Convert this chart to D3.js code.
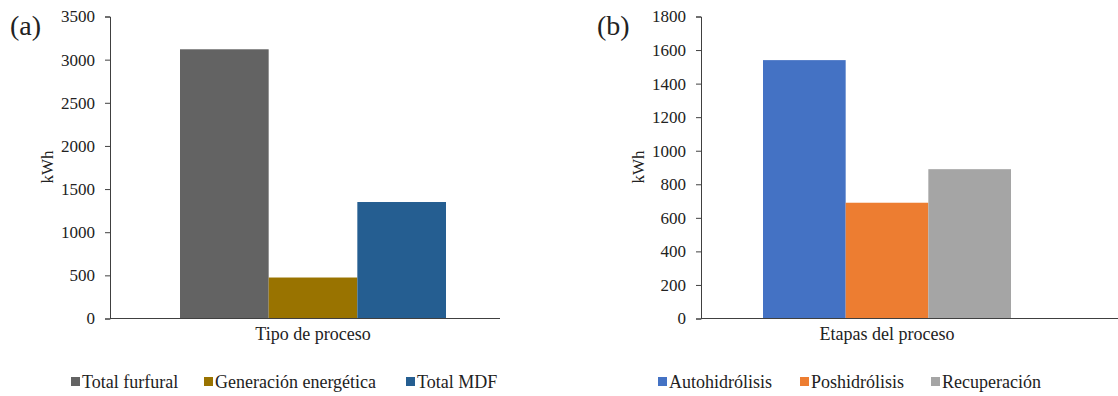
<!DOCTYPE html>
<html>
<head>
<meta charset="utf-8">
<script src="https://cdn.jsdelivr.net/npm/d3@7"></script>
<style>
  body { margin: 0; background: #fff; }
</style>
</head>
<body>
<svg id="chart" width="1118" height="396" font-family="Liberation Serif"></svg>
<script>
// Panel (a) data
const seriesA = ["Total furfural", "Generación energética", "Total MDF"];
const valuesA = [3120, 475, 1350];
const colorsA = ["#636363", "#997300", "#255e91"];
const ticksA = [0, 500, 1000, 1500, 2000, 2500, 3000, 3500];

// Panel (b) data
const seriesB = ["Autohidrólisis", "Poshidrólisis", "Recuperación"];
const valuesB = [1540, 690, 890];
const colorsB = ["#4472c4", "#ed7d31", "#a5a5a5"];
const ticksB = [0, 200, 400, 600, 800, 1000, 1200, 1400, 1600, 1800];

const FONT = "Liberation Serif";
const svg = d3.select("#chart");

// Draw one panel of the figure
function drawPanel(opt) {
    const g = svg.append("g");

    const y = d3.scaleLinear()
        .domain([0, opt.max])
        .range([318.5, 16.5]);

    const x = d3.scaleBand()
        .domain(opt.series)
        .range([opt.barLeft, opt.barRight])
        .padding(0);

    // Bars
    g.selectAll("rect.bar")
        .data(opt.values)
        .enter().append("rect")
        .attr("class", "bar")
        .attr("x", (d, i) => x(opt.series[i]))
        .attr("y", d => y(d))
        .attr("width", x.bandwidth())
        .attr("height", d => y(0) - y(d))
        .attr("fill", (d, i) => opt.colors[i]);

    // Y axis
    const yAxis = d3.axisLeft(y)
        .tickValues(opt.ticks)
        .tickSize(5)
        .tickPadding(10)
        .tickFormat(d3.format("d"));
    const ag = g.append("g")
        .attr("transform", `translate(${opt.axisLeft},0)`)
        .call(yAxis)
        .attr("font-family", FONT)
        .attr("font-size", 17);
    ag.select(".domain").attr("stroke", "#404040");
    ag.selectAll(".tick line").attr("stroke", "#404040");
    ag.selectAll(".tick text").attr("fill", "#222");

    // X axis baseline
    g.append("line")
        .attr("x1", opt.axisLeft)
        .attr("x2", opt.axisRight)
        .attr("y1", y(0))
        .attr("y2", y(0))
        .attr("stroke", "#404040");

    // Category label
    g.append("text")
        .attr("x", (opt.barLeft + opt.barRight) / 2)
        .attr("y", 340)
        .attr("text-anchor", "middle")
        .attr("font-family", FONT)
        .attr("font-size", 18)
        .attr("fill", "#222")
        .text(opt.category);

    // Y axis title
    g.append("text")
        .attr("transform", `translate(${opt.axisLeft - 57},167) rotate(-90)`)
        .attr("text-anchor", "middle")
        .attr("font-family", FONT)
        .attr("font-size", 17)
        .attr("fill", "#222")
        .text("kWh");

    // Panel letter
    g.append("text")
        .attr("x", opt.letterX)
        .attr("y", 35)
        .attr("font-family", FONT)
        .attr("font-size", 28)
        .attr("fill", "#222")
        .text(opt.letter);

    // Legend
    const lg = g.selectAll("g.leg")
        .data(opt.series)
        .enter().append("g")
        .attr("class", "leg")
        .attr("transform", (d, i) => `translate(${opt.legendX[i]},388)`);
    lg.append("rect")
        .attr("x", 0)
        .attr("y", -11)
        .attr("width", 9)
        .attr("height", 9)
        .attr("fill", (d, i) => opt.colors[i]);
    lg.append("text")
        .attr("x", 11)
        .attr("y", 0)
        .attr("font-family", FONT)
        .attr("font-size", 18)
        .attr("fill", "#222")
        .text(d => d);
}

drawPanel({
    series: seriesA, values: valuesA, colors: colorsA, ticks: ticksA, max: 3500,
    axisLeft: 110, axisRight: 500, barLeft: 180, barRight: 446,
    category: "Tipo de proceso", letter: "(a)", letterX: 10,
    legendX: [71, 204, 406]
});

drawPanel({
    series: seriesB, values: valuesB, colors: colorsB, ticks: ticksB, max: 1800,
    axisLeft: 701, axisRight: 1118, barLeft: 763, barRight: 1011,
    category: "Etapas del proceso", letter: "(b)", letterX: 597,
    legendX: [658, 800, 931]
});
</script>
</body>
</html>
